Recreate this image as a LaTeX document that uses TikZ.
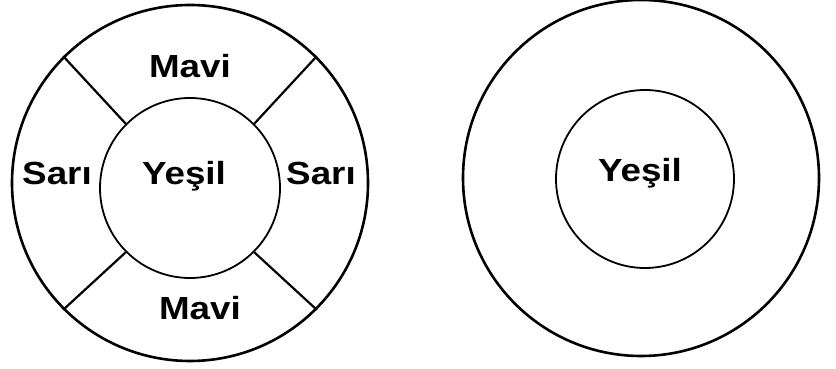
\documentclass[tikz,border=0pt]{standalone}
\usepackage{fontspec}
\setmainfont{Liberation Sans}[FakeStretch=1.15]
\begin{document}
\begin{tikzpicture}[x=1pt,y=1pt,
  ring/.style={circle,draw=black,inner sep=0pt,line width=2.6pt},
  hub/.style={circle,draw=black,inner sep=0pt,line width=1.8pt},
  divider/.style={draw=black,line width=2.2pt},
  lbl/.style={anchor=base,inner sep=0pt,font=\fontsize{32}{36}\selectfont\bfseries}]
\useasboundingbox (0,0) rectangle (836,369);
% left figure
\node[ring,minimum size=356pt] (LO) at (190,186) {};
\node[hub,minimum size=180pt] (LI) at (190,181) {};
\draw[divider] (LI.45) -- (LO.45);
\draw[divider] (LI.135) -- (LO.135);
\draw[divider] (LI.225) -- (LO.225);
\draw[divider] (LI.315) -- (LO.315);
\node[lbl] (mt) at (190,291) {Mavi};
\node[lbl] (mb) at (200,49) {Mavi};
\node[lbl] (sl) at (57,184) {Sarı};
\node[lbl] (sr) at (321,184) {Sarı};
\node[lbl] (yl) at (184,184) {Yeşil};
% right figure
\node[ring,minimum size=356pt] (RO) at (641,191) {};
\node[hub,minimum size=178pt] (RI) at (645,190) {};
\node[lbl] (yr) at (640,187) {Yeşil};
\end{tikzpicture}
\end{document}
